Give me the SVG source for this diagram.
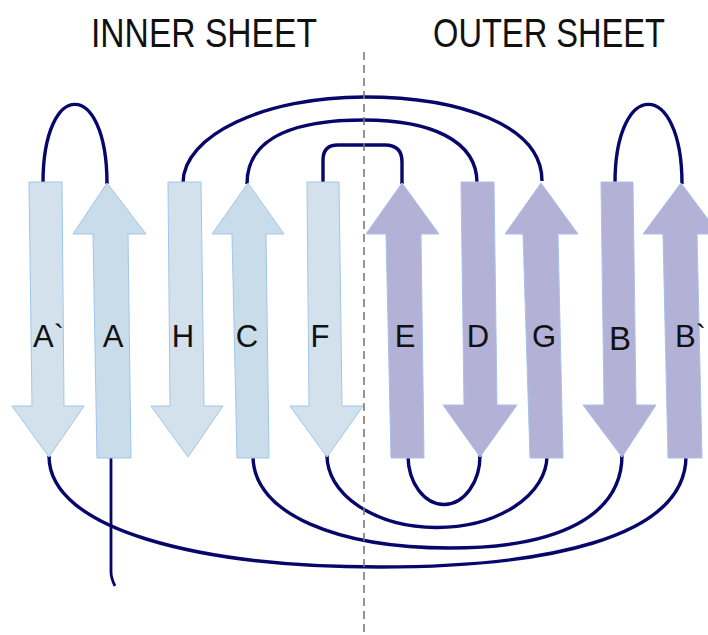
<svg xmlns="http://www.w3.org/2000/svg" width="708" height="635" viewBox="0 0 708 635">
<style>
.title{font-family:"Liberation Sans",Arial,sans-serif;font-size:41px;fill:#111;}
.lbl{font-family:"Liberation Sans",Arial,sans-serif;font-size:31px;fill:#111;}
.in-d{fill:#d3e1ec;stroke:#9fc6ea;stroke-width:1;}
.in-u{fill:#c9dcea;stroke:#9fc6ea;stroke-width:1;}
.out{fill:#b4b1d7;stroke:#a7c0ea;stroke-width:1;}
.conn{fill:none;stroke:#07076b;stroke-width:3.4;stroke-linecap:butt;}
.divider{stroke:#7a7a7a;stroke-width:1.6;stroke-dasharray:8,5;}
</style>
<rect width="708" height="635" fill="#ffffff"/>
<text class="title" transform="translate(91,47) scale(0.82,1)" x="0" y="0" textLength="275.6" lengthAdjust="spacingAndGlyphs">INNER SHEET</text>
<text class="title" transform="translate(433,47) scale(0.796,1)" x="0" y="0" textLength="291.5" lengthAdjust="spacingAndGlyphs">OUTER SHEET</text>
<g id="connectors">
<path class="conn" d="M43,183 C43,78 107,78 107,184"/>
<path class="conn" d="M183,183 C183,135 265,97 364,97 C460,97 542,125 542,181"/>
<path class="conn" d="M247,184 C247,135 300,120 364,120 C430,120 477,140 477,183"/>
<path class="conn" d="M323,183 L323,160 Q323,145 338,145 L385,145 Q402,145 402,162 L402,184"/>
<path class="conn" d="M615,183 C615,78 682,78 682,184"/>
<path class="conn" d="M49,456 C49,530 200,567 380,567 C540,567 686,540 686,456"/>
<path class="conn" d="M253,456 C253,515 340,548 450,548 C560,548 622,515 622,455"/>
<path class="conn" d="M327,455 A110,72 0 0 0 547,456"/>
<path class="conn" d="M408,456 A36,49 0 0 0 480,455"/>
<path class="conn" d="M111,456 L111,572 Q111,578 115,586" style="stroke-width:2.8"/>
</g>
<g id="Aprime"><polygon class="in-d" points="29,182 62,182 64,406 84,406 49,457 12,406 32,406"/><text class="lbl" x="33" y="347">A`</text></g>
<g id="A"><polygon class="in-u" points="107,183 146,234 128,234 131,458 97,458 93,234 73,234"/><text class="lbl" x="113" y="347" text-anchor="middle">A</text></g>
<g id="H"><polygon class="in-d" points="168,182 201,182 204,406 223,406 188,457 151,406 170,406"/><text class="lbl" x="183" y="347" text-anchor="middle">H</text></g>
<g id="C"><polygon class="in-u" points="248,183 284,234 266,234 269,458 237,458 232,234 212,234"/><text class="lbl" x="247" y="347" text-anchor="middle">C</text></g>
<g id="F"><polygon class="in-d" points="307,182 339,182 342,406 363,406 327,457 290,406 309,406"/><text class="lbl" x="320" y="347" text-anchor="middle">F</text></g>
<g id="E"><polygon class="out" points="402,183 439,234 421,234 424,458 391,458 386,234 366,234"/><text class="lbl" x="405" y="347" text-anchor="middle">E</text></g>
<g id="D"><polygon class="out" points="461,182 494,182 497,405 517,405 480,457 443,405 464,405"/><text class="lbl" x="478" y="347" text-anchor="middle">D</text></g>
<g id="G"><polygon class="out" points="541,183 578,234 558,234 563,458 530,458 523,234 505,234"/><text class="lbl" x="544" y="347" text-anchor="middle">G</text></g>
<g id="B"><polygon class="out" points="601,182 633,182 636,405 656,405 622,457 583,405 604,405"/><text class="lbl" x="620" y="350" text-anchor="middle" style="font-size:33px">B</text></g>
<g id="Bprime"><polygon class="out" points="681,183 719,234 697,234 702,458 668,458 663,234 643,234"/><text class="lbl" x="675" y="347">B`</text></g>
<line class="divider" x1="364" y1="52" x2="364" y2="635"/>
</svg>
